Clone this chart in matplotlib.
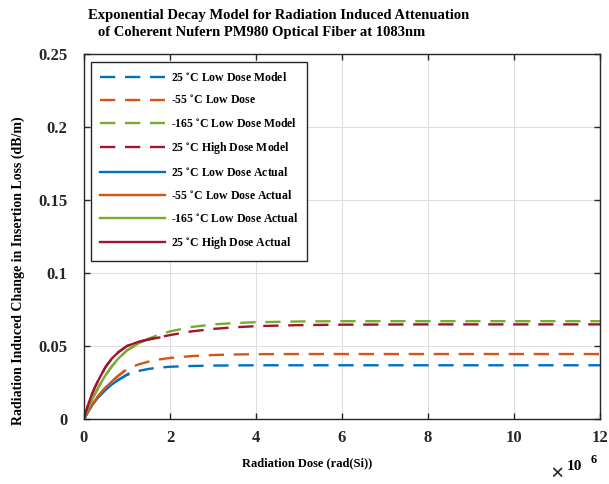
import numpy as np
import matplotlib
matplotlib.use('Agg')
import matplotlib.pyplot as plt

# dose in units of 1e6 rad(Si)
dose_model = [0, 0.05, 0.1, 0.15, 0.2, 0.25, 0.35, 0.5, 0.65, 0.8, 1, 1.25, 1.5, 1.75,
              2, 2.5, 3, 3.5, 4, 5, 6, 8, 10, 12]

# model curves (dB/m)
blue_model = [0, 0.0025, 0.0052, 0.0076, 0.0098, 0.0118, 0.0155, 0.0200, 0.0237, 0.0268,
              0.0302, 0.0328, 0.0343, 0.0352, 0.0358, 0.0363, 0.0366, 0.0367, 0.0368,
              0.0368, 0.0368, 0.0368, 0.0368, 0.0368]
orange_model = [0, 0.0027, 0.0055, 0.0080, 0.0104, 0.0125, 0.0165, 0.0215, 0.0258, 0.0297,
                0.0340, 0.0372, 0.0393, 0.0408, 0.0418, 0.0431, 0.0438, 0.0442, 0.0444,
                0.0445, 0.0445, 0.0445, 0.0445, 0.0445]
green_model = [0, 0.0037, 0.0073, 0.0107, 0.0140, 0.0168, 0.0225, 0.0300, 0.0362, 0.0415,
               0.0470, 0.0515, 0.0550, 0.0578, 0.0600, 0.0630, 0.0648, 0.0657, 0.0663,
               0.0668, 0.0670, 0.0670, 0.0670, 0.0670]
red_model = [0, 0.0052, 0.0100, 0.0143, 0.0180, 0.0215, 0.0275, 0.0356, 0.0415, 0.0458,
             0.0500, 0.0527, 0.0545, 0.0560, 0.0575, 0.0600, 0.0617, 0.0628, 0.0636,
             0.0643, 0.0646, 0.0648, 0.0648, 0.0648]

# measured curves
blue_dose = [0, 0.05, 0.1, 0.15, 0.2, 0.25, 0.35, 0.5, 0.65, 0.8, 1.03]
blue_act = [0, 0.0025, 0.0052, 0.0076, 0.0098, 0.0118, 0.0155, 0.0200, 0.0237, 0.0268, 0.0310]
orange_dose = [0, 0.05, 0.1, 0.15, 0.2, 0.25, 0.35, 0.5, 0.65, 0.8, 0.93]
orange_act = [0, 0.0027, 0.0055, 0.0080, 0.0104, 0.0125, 0.0165, 0.0215, 0.0258, 0.0297, 0.0328]
green_dose = [0, 0.05, 0.1, 0.15, 0.2, 0.25, 0.35, 0.5, 0.65, 0.8, 1, 1.25, 1.5]
green_act = [0, 0.0037, 0.0073, 0.0107, 0.0140, 0.0168, 0.0225, 0.0300, 0.0362, 0.0415,
             0.0470, 0.0515, 0.0550]
red_dose = [0, 0.05, 0.1, 0.15, 0.2, 0.25, 0.35, 0.5, 0.65, 0.8, 1, 1.25, 1.5, 1.75]
red_act = [0, 0.0052, 0.0100, 0.0143, 0.0180, 0.0215, 0.0275, 0.0356, 0.0415, 0.0458,
           0.0500, 0.0527, 0.0545, 0.0558]

labels = [r'25 $^{\circ}$C Low Dose Model', r'-55 $^{\circ}$C Low Dose',
          r'-165 $^{\circ}$C Low Dose Model', r'25 $^{\circ}$C High Dose Model',
          r'25 $^{\circ}$C Low Dose Actual', r'-55 $^{\circ}$C Low Dose Actual',
          r'-165 $^{\circ}$C Low Dose Actual', r'25 $^{\circ}$C High Dose Actual']

colors = ['#0072BD', '#D95319', '#77AC30', '#A2142F']

plt.rcParams['font.family'] = 'Liberation Serif'
plt.rcParams['font.weight'] = 'bold'
plt.rcParams['mathtext.fontset'] = 'stix'
plt.rcParams['lines.scale_dashes'] = False

fig = plt.figure(figsize=(6.09, 4.84), dpi=100)
ax = fig.add_axes([84/609, 1 - 419/484, 516/609, 365/484])

lw = 1.7
models = [blue_model, orange_model, green_model, red_model]
for ys, c, lab in zip(models, colors, labels[:4]):
    ax.plot(dose_model, ys, color=c, lw=lw, dashes=(11, 7), label=lab)
acts = [(blue_dose, blue_act), (orange_dose, orange_act), (green_dose, green_act), (red_dose, red_act)]
for (xs, ys), c, lab in zip(acts, colors, labels[4:]):
    ax.plot(xs, ys, color=c, lw=lw, label=lab)

ax.set_xlim(0, 12)
ax.set_ylim(0, 0.25)
ax.set_xticks([0, 2, 4, 6, 8, 10, 12])
ax.set_xticklabels(['0', '2', '4', '6', '8', '10', '12'])
ax.set_yticks([0, 0.05, 0.1, 0.15, 0.2, 0.25])
ax.set_yticklabels(['0', '0.05', '0.1', '0.15', '0.2', '0.25'])
ax.tick_params(direction='in', length=4, width=1, top=True, right=True, labelsize=12,
               colors='#262626')
ax.tick_params(axis='y', pad=12)
ax.tick_params(axis='x', pad=8)
ax.grid(True, color='#dfdfdf', lw=0.8)
ax.set_axisbelow(True)
for s in ax.spines.values():
    s.set_color('#262626')
    s.set_linewidth(1.0)

# axis labels (placed where the original figure has them)
fig.text(307/609, 1 - 463/484, 'Radiation Dose (rad(Si))', fontsize=9, fontweight='bold',
         ha='center', va='center')
fig.text(18/609, 1 - 271/484, 'Radiation Induced Change in Insertion Loss (dB/m)',
         fontsize=10, fontweight='bold', ha='center', va='center', rotation=90)

fig.text(88/609, 1 - 16/484, 'Exponential Decay Model for Radiation Induced Attenuation',
         fontsize=10.5, fontweight='bold', ha='left', va='center')
fig.text(98/609, 1 - 33/484, 'of Coherent Nufern PM980 Optical Fiber at 1083nm',
         fontsize=10.5, fontweight='bold', ha='left', va='center')

# exponent marker for x axis
fig.text(557/609, 1 - 474/484, '\u00d7', fontsize=17, ha='center', va='center', color='#262626')
fig.text(567/609, 1 - 467/484, '10', fontsize=11, fontweight='bold', ha='left', va='center')
fig.text(591/609, 1 - 460/484, '6', fontsize=9, fontweight='bold', ha='left', va='center')

leg = ax.legend(loc='upper left', bbox_to_anchor=(7/516, 1 - 8/365), borderaxespad=0,
                handlelength=5.5, handletextpad=0.45, labelspacing=0.85,
                borderpad=0.8, fancybox=False, framealpha=1, edgecolor='#262626',
                prop={'weight': 'bold', 'size': 8.5})
leg.get_frame().set_linewidth(1.0)

fig.savefig('out.png', dpi=100)
